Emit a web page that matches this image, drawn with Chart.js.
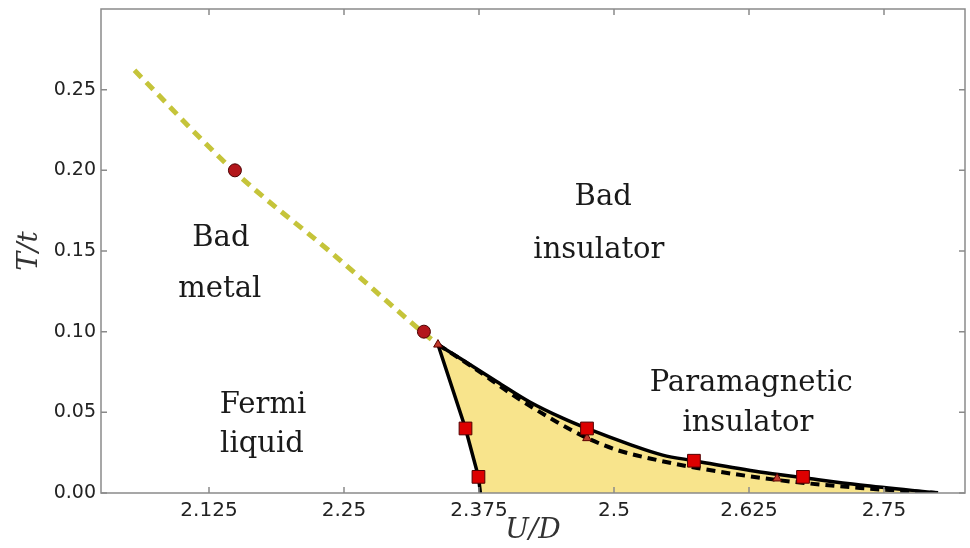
<!DOCTYPE html>
<html>
<head>
<meta charset="utf-8">
<script src="https://cdn.jsdelivr.net/npm/chart.js@4/dist/chart.umd.min.js"></script>
<style>
  html, body { margin: 0; padding: 0; background: #fff; }
</style>
</head>
<body>
<canvas id="phaseChart" width="970" height="548"></canvas>
<script>
// crossover line between bad metal and bad insulator
const crossU = [2.056, 2.149, 2.24, 2.324, 2.337];
const crossT = [0.262, 0.199, 0.148, 0.099, 0.092];
const circleU = [2.149, 2.324];
const circleT = [0.20, 0.10];

// left spinodal (Uc1)
const uc1U = [2.337, 2.3625, 2.3745, 2.3763];
const uc1T = [0.092, 0.04, 0.01, 0.0];

// right spinodal (Uc2)
const uc2U = [2.337, 2.360, 2.392, 2.422, 2.453, 2.475, 2.515, 2.545, 2.574, 2.635, 2.675, 2.728, 2.80];
const uc2T = [0.092, 0.0824, 0.0688, 0.0564, 0.0462, 0.040, 0.030, 0.0235, 0.020, 0.013, 0.0095, 0.005, 0.0];

// first order transition (Uc)
const ucU = [2.337, 2.369, 2.4065, 2.447, 2.475, 2.503, 2.540, 2.577, 2.651, 2.728, 2.80];
const ucT = [0.092, 0.0781, 0.0607, 0.044, 0.0341, 0.0266, 0.0204, 0.0155, 0.0081, 0.0031, 0.0];

const squareU = [2.3625, 2.3745, 2.475, 2.574, 2.675];
const squareT = [0.04, 0.01, 0.04, 0.02, 0.01];
const triU = [2.337, 2.475, 2.651];
const triT = [0.092, 0.034, 0.009];

const xTicks = [2.125, 2.25, 2.375, 2.5, 2.625, 2.75];
const yTicks = [0, 0.05, 0.10, 0.15, 0.20, 0.25];

const regionText = ["Bad", "metal", "Fermi", "liquid", "Bad", "insulator", "Paramagnetic", "insulator"];
const regionU = [2.136, 2.135, 2.175, 2.174, 2.490, 2.486, 2.627, 2.624];
const regionT = [0.158, 0.126, 0.0545, 0.030, 0.183, 0.1506, 0.0682, 0.0434];

const pts = (us, ts) => us.map((u, i) => ({ x: u, y: ts[i] }));

// closed coexistence region: along Uc2, back up along Uc1
const coexist = pts(uc2U, uc2T).concat(pts(uc1U, uc1T).reverse());

const frameTicks = {
  id: "frameTicks",
  afterDatasetsDraw(chart) {
    const { ctx, chartArea: a, scales: { x, y } } = chart;
    ctx.save();
    ctx.strokeStyle = "#8a8a8a";
    ctx.lineWidth = 1.5;
    ctx.strokeRect(a.left, a.top, a.right - a.left, a.bottom - a.top);
    ctx.beginPath();
    x.ticks.forEach(t => {
      const px = x.getPixelForValue(t.value);
      ctx.moveTo(px, a.bottom); ctx.lineTo(px, a.bottom - 6);
      ctx.moveTo(px, a.top); ctx.lineTo(px, a.top + 6);
    });
    y.ticks.forEach(t => {
      const py = y.getPixelForValue(t.value);
      ctx.moveTo(a.left, py); ctx.lineTo(a.left + 6, py);
      ctx.moveTo(a.right, py); ctx.lineTo(a.right - 6, py);
    });
    ctx.stroke();
    ctx.restore();
  }
};

const regionLabels = {
  id: "regionLabels",
  afterDraw(chart) {
    const { ctx, scales: { x, y } } = chart;
    ctx.save();
    ctx.font = '29px "DejaVu Serif"';
    ctx.fillStyle = "#1a1a1a";
    ctx.textAlign = "center";
    ctx.textBaseline = "middle";
    regionText.forEach((txt, i) => {
      ctx.fillText(txt, x.getPixelForValue(regionU[i]), y.getPixelForValue(regionT[i]));
    });
    ctx.restore();
  }
};

function noPad(s) {
  s.paddingTop = 0; s.paddingBottom = 0; s.paddingLeft = 0; s.paddingRight = 0;
}

new Chart(document.getElementById("phaseChart"), {
  type: "scatter",
  data: {
    datasets: [
      {
        data: pts(squareU, squareT),
        pointStyle: "rect",
        pointRadius: 9,
        backgroundColor: "#dd0000",
        borderColor: "#500000",
        borderWidth: 1,
        order: 1
      },
      {
        data: pts(circleU, circleT),
        pointStyle: "circle",
        pointRadius: 6.5,
        backgroundColor: "#b3161b",
        borderColor: "#4a0000",
        borderWidth: 1,
        order: 1
      },
      {
        data: pts(triU, triT),
        pointStyle: "triangle",
        pointRadius: 5,
        backgroundColor: "#c0392b",
        borderColor: "#5a0000",
        borderWidth: 1,
        order: 2
      },
      {
        data: pts(uc2U, uc2T),
        showLine: true,
        pointRadius: 0,
        borderColor: "#000",
        borderWidth: 3.5,
        cubicInterpolationMode: "monotone",
        order: 4
      },
      {
        data: pts(uc1U, uc1T),
        showLine: true,
        pointRadius: 0,
        borderColor: "#000",
        borderWidth: 3.5,
        order: 4
      },
      {
        data: pts(ucU, ucT),
        showLine: true,
        pointRadius: 0,
        borderColor: "#000",
        borderWidth: 4,
        borderDash: [9, 6],
        cubicInterpolationMode: "monotone",
        order: 5
      },
      {
        data: pts(crossU, crossT),
        showLine: true,
        pointRadius: 0,
        borderColor: "#c5c43a",
        borderWidth: 5,
        borderDash: [10, 7],
        cubicInterpolationMode: "monotone",
        order: 6
      },
      {
        data: coexist,
        showLine: true,
        pointRadius: 0,
        borderWidth: 0,
        borderColor: "rgba(0,0,0,0)",
        backgroundColor: "#f8e48c",
        fill: "shape",
        tension: 0,
        order: 10
      }
    ]
  },
  options: {
    responsive: false,
    animation: false,
    devicePixelRatio: 1,
    layout: { autoPadding: false, padding: { top: 9, right: 5, left: 0, bottom: 0 } },
    plugins: {
      legend: { display: false },
      tooltip: { enabled: false }
    },
    scales: {
      x: {
        type: "linear",
        min: 2.025,
        max: 2.825,
        afterBuildTicks: s => { s.ticks = xTicks.map(v => ({ value: v })); },
        afterFit: s => { s.height = 55; noPad(s); },
        grid: { display: false, drawTicks: false, tickLength: 0 },
        border: { display: false },
        ticks: {
          font: { family: "DejaVu Sans", size: 20 },
          color: "#222",
          padding: 6,
          maxRotation: 0,
          autoSkip: false,
          callback: v => String(v)
        },
        title: {
          display: true,
          text: "U/D",
          font: { family: "DejaVu Serif", style: "italic", size: 28 },
          color: "#333",
          padding: { top: 0, bottom: 0 }
        }
      },
      y: {
        type: "linear",
        min: 0,
        max: 0.30,
        afterBuildTicks: s => { s.ticks = yTicks.map(v => ({ value: v })); },
        afterFit: s => { s.width = 101; noPad(s); },
        grid: { display: false, drawTicks: false, tickLength: 0 },
        border: { display: false },
        ticks: {
          font: { family: "DejaVu Sans", size: 19 },
          color: "#222",
          padding: 5,
          callback: v => v.toFixed(2)
        },
        title: {
          display: true,
          text: "T/t",
          font: { family: "DejaVu Serif", style: "italic", size: 28 },
          color: "#333",
          padding: { top: 13, bottom: 0 }
        }
      }
    }
  },
  plugins: [frameTicks, regionLabels]
});
</script>
</body>
</html>
